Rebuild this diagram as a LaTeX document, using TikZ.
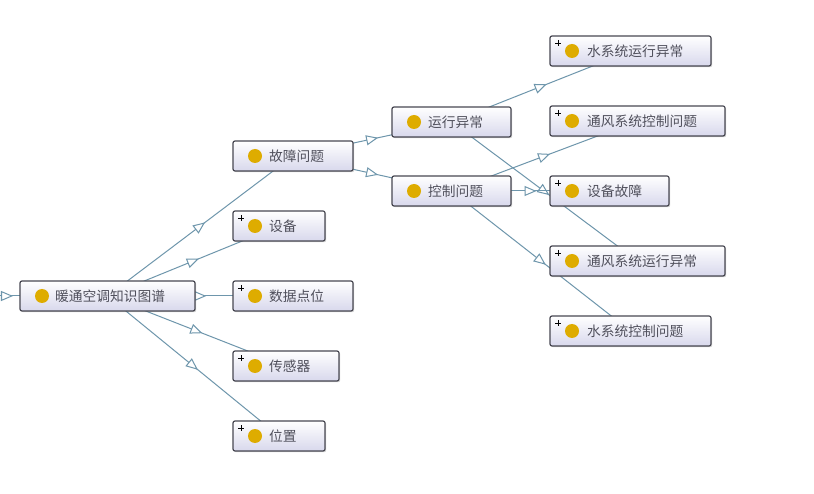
\documentclass[tikz,border=0pt]{standalone}
\usepackage{fontspec}
\newfontfamily\cjk{Noto Sans CJK SC}
\usetikzlibrary{arrows.meta,decorations.markings,shadows}
\definecolor{edgecol}{RGB}{110,150,172}
\definecolor{boxborder}{RGB}{72,72,82}
\definecolor{boxbot}{RGB}{216,216,236}
\definecolor{dotcol}{RGB}{222,172,0}
\definecolor{txtcol}{RGB}{80,80,92}
\pgfdeclarelayer{bg}
\pgfsetlayers{bg,main}
\tikzset{
  isa/.style={draw=edgecol, line width=1pt, postaction={decorate},
    decoration={markings, mark=at position 0.5 with {\arrow[edgecol, line width=1pt, xshift=6pt]{Triangle[fill=white, length=12pt, width=10pt]}}}},
  nbox/.style={draw=boxborder, line width=1.2pt, rounded corners=2pt,
    top color=white, bottom color=boxbot, minimum height=30pt,
    inner xsep=0pt, inner ysep=0pt, align=left,
    font=\cjk\fontsize{13.75}{16}\selectfont, text=txtcol,
    drop shadow={shadow xshift=1.2pt, shadow yshift=-1.2pt, opacity=0.35},
    path picture={\fill[dotcol] ([xshift=22pt]path picture bounding box.west) circle (7pt);}},
  nboxp/.style={nbox,
    path picture={\fill[dotcol] ([xshift=22pt]path picture bounding box.west) circle (7pt);
      \draw[black, line width=0.8pt] ([xshift=8pt,yshift=-7pt]path picture bounding box.north west) ++(-3,0) -- ++(6,0) ++(-3,-3) -- ++(0,6);}}
}
\begin{document}
\begin{tikzpicture}[x=1pt,y=-1pt]
\useasboundingbox (0,0) rectangle (814,494);
% nodes
\node[nbox, text width=175pt] (root) at (107.5,296) {\hspace*{35pt}暖通空调知识图谱};
\node[nbox, text width=120pt] (gz) at (293,156) {\hspace*{36pt}故障问题};
\node[nboxp, text width=92pt] (sb) at (279,226) {\hspace*{36pt}设备};
\node[nboxp, text width=120pt] (sj) at (293,296) {\hspace*{36pt}数据点位};
\node[nboxp, text width=106pt] (cg) at (286,366) {\hspace*{36pt}传感器};
\node[nboxp, text width=92pt] (wz) at (279,436) {\hspace*{36pt}位置};
\node[nbox, text width=119pt] (yx) at (451.5,122) {\hspace*{36pt}运行异常};
\node[nbox, text width=119pt] (kz) at (451.5,191) {\hspace*{36pt}控制问题};
\node[nboxp, text width=161pt] (s1) at (630.5,51) {\hspace*{37pt}水系统运行异常};
\node[nboxp, text width=175pt] (t1) at (637.5,121) {\hspace*{37pt}通风系统控制问题};
\node[nboxp, text width=119pt] (sg) at (609.5,191) {\hspace*{37pt}设备故障};
\node[nboxp, text width=175pt] (t2) at (637.5,261) {\hspace*{37pt}通风系统运行异常};
\node[nboxp, text width=161pt] (s2) at (630.5,331) {\hspace*{37pt}水系统控制问题};
\coordinate (thing) at (-40,296);
% edges
\begin{pgfonlayer}{bg}
\fill[white] (0,0) rectangle (814,494);
\draw[draw=edgecol, line width=1pt, postaction={decorate},
  decoration={markings, mark=at position 53pt with {\arrow[edgecol, line width=1pt]{Triangle[fill=white, length=12pt, width=10pt]}}}]
  (thing) -- (root.center);
\draw[isa] (root.center) -- (gz.center);
\draw[isa] (root.center) -- (sb.center);
\draw[isa] (root.center) -- (sj.center);
\draw[isa] (root.center) -- (cg.center);
\draw[isa] (root.center) -- (wz.center);
\draw[isa] (gz.center) -- (yx.center);
\draw[isa] (gz.center) -- (kz.center);
\draw[isa] (yx.center) -- (s1.center);
\draw[isa] (yx.center) -- (t2.center);
\draw[isa] (kz.center) -- (t1.center);
\draw[isa] (kz.center) -- (sg.center);
\draw[isa] (kz.center) -- (s2.center);
\end{pgfonlayer}
\end{tikzpicture}
\end{document}
